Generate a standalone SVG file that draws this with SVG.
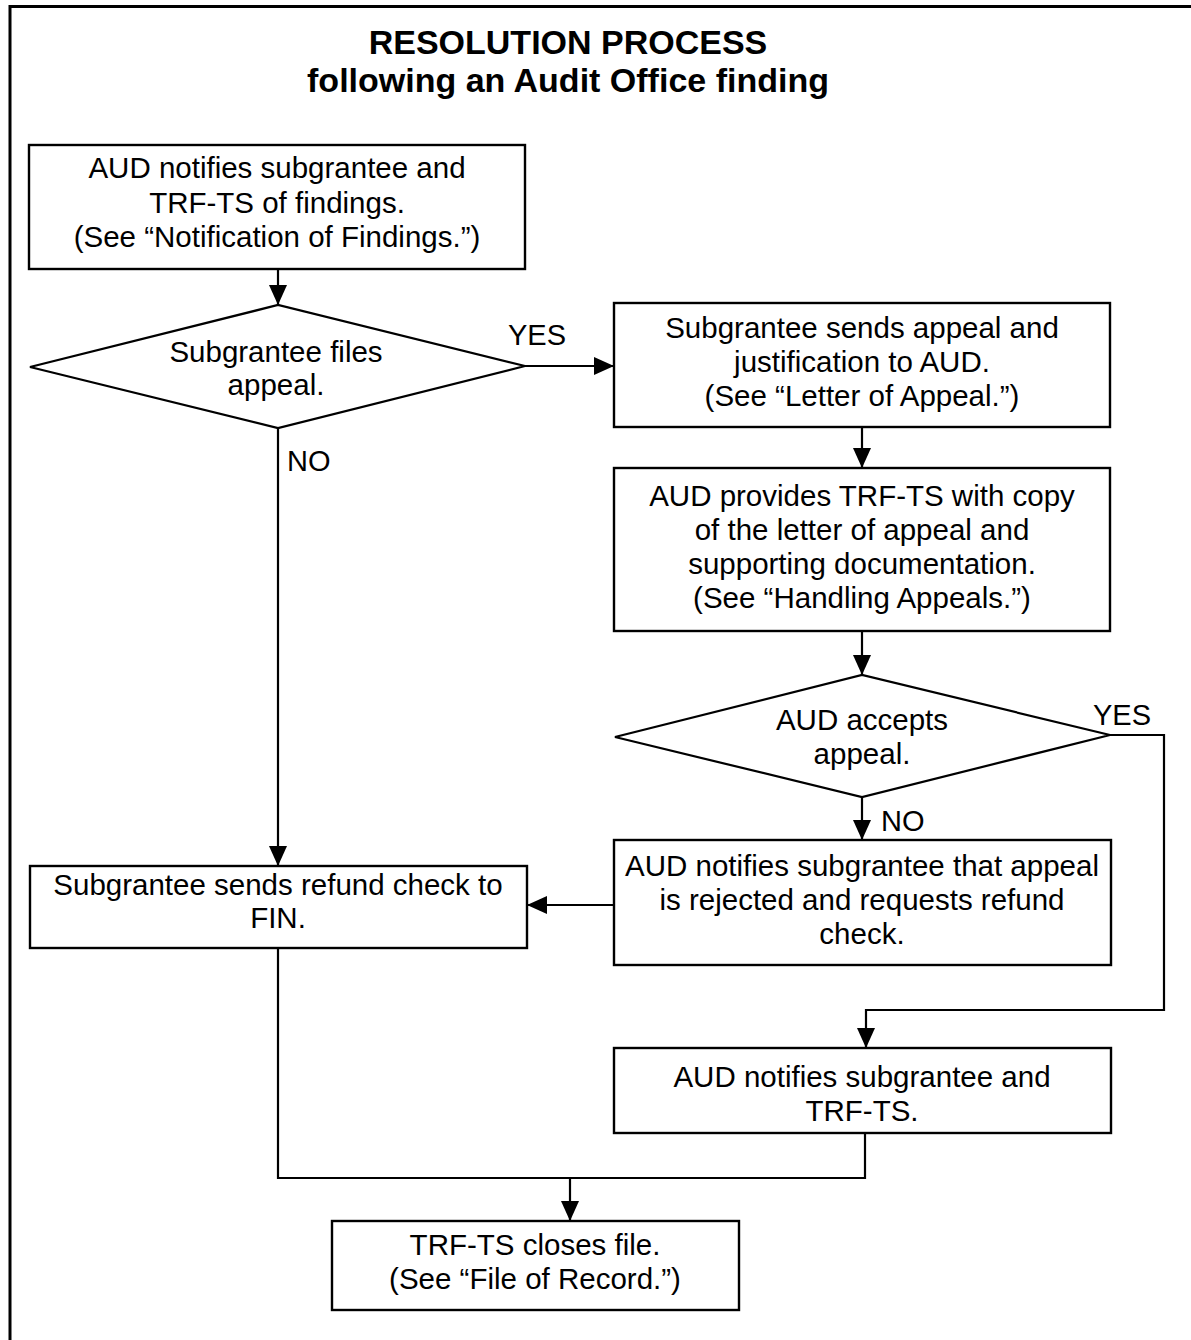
<svg xmlns="http://www.w3.org/2000/svg" width="1191" height="1340" viewBox="0 0 1191 1340">
  <style>
    .box { fill: #ffffff; stroke: #000000; stroke-width: 2.4; }
    .dec { fill: #ffffff; stroke: #000000; stroke-width: 2.2; }
    .wire { fill: none; stroke: #000000; stroke-width: 2.2; }
    .txt { font-family: "Liberation Sans", Arial, sans-serif; font-size: 29.5px; fill: #000000; text-anchor: middle; }
    .lbl { font-family: "Liberation Sans", Arial, sans-serif; font-size: 29px; fill: #000000; }
    .title { font-family: "Liberation Sans", Arial, sans-serif; font-size: 34px; font-weight: bold; fill: #000000; text-anchor: middle; }
  </style>
  <defs>
    <marker id="arrow" viewBox="0 0 20 18" refX="20" refY="9" markerWidth="20" markerHeight="18" markerUnits="userSpaceOnUse" orient="auto">
      <path d="M0,0 L20,9 L0,18 Z" fill="#000000"/>
    </marker>
  </defs>

  <rect width="1191" height="1340" fill="#ffffff"/>
  <!-- page frame -->
  <path d="M10,1340 V6.5 H1191" fill="none" stroke="#000000" stroke-width="3"/>

  <g id="title">
    <text class="title" x="568" y="54">RESOLUTION PROCESS</text>
    <text class="title" x="568" y="92">following an Audit Office finding</text>
  </g>

  <!-- connectors -->
  <g id="connectors">
    <path class="wire" d="M278,269 V305" marker-end="url(#arrow)"/>
    <path class="wire" d="M525,366 H614" marker-end="url(#arrow)"/>
    <path class="wire" d="M278,428 V866" marker-end="url(#arrow)"/>
    <path class="wire" d="M862,427 V468" marker-end="url(#arrow)"/>
    <path class="wire" d="M862,631 V675" marker-end="url(#arrow)"/>
    <path class="wire" d="M862,797 V840" marker-end="url(#arrow)"/>
    <path class="wire" d="M1110,735 H1164 V1010 H866 V1048" marker-end="url(#arrow)"/>
    <path class="wire" d="M614,905 H527" marker-end="url(#arrow)"/>
    <path class="wire" d="M278,948 V1178 H865 V1133"/>
    <path class="wire" d="M570,1178 V1221" marker-end="url(#arrow)"/>
    <text class="lbl" x="508" y="345">YES</text>
    <text class="lbl" x="287" y="471">NO</text>
    <text class="lbl" x="1093" y="725">YES</text>
    <text class="lbl" x="881" y="831">NO</text>
  </g>

  <g id="notify-findings">
    <rect class="box" x="29" y="145" width="496" height="124"/>
    <text class="txt" x="277" y="178">AUD notifies subgrantee and</text>
    <text class="txt" x="277" y="213">TRF-TS of findings.</text>
    <text class="txt" x="277" y="247">(See “Notification of Findings.”)</text>
  </g>

  <g id="files-appeal">
    <polygon class="dec" points="30,367 278,305 525,366 278,428"/>
    <text class="txt" x="276" y="362">Subgrantee files</text>
    <text class="txt" x="276" y="395">appeal.</text>
  </g>

  <g id="sends-appeal">
    <rect class="box" x="614" y="303" width="496" height="124"/>
    <text class="txt" x="862" y="338">Subgrantee sends appeal and</text>
    <text class="txt" x="862" y="372">justification to AUD.</text>
    <text class="txt" x="862" y="406">(See “Letter of Appeal.”)</text>
  </g>

  <g id="provides-copy">
    <rect class="box" x="614" y="468" width="496" height="163"/>
    <text class="txt" x="862" y="506">AUD provides TRF-TS with copy</text>
    <text class="txt" x="862" y="540">of the letter of appeal and</text>
    <text class="txt" x="862" y="574">supporting documentation.</text>
    <text class="txt" x="862" y="608">(See “Handling Appeals.”)</text>
  </g>

  <g id="accepts-appeal">
    <polygon class="dec" points="615,737 862,675 1110,735 862,797"/>
    <text class="txt" x="862" y="730">AUD accepts</text>
    <text class="txt" x="862" y="764">appeal.</text>
  </g>

  <g id="appeal-rejected">
    <rect class="box" x="614" y="840" width="497" height="125"/>
    <text class="txt" x="862" y="876">AUD notifies subgrantee that appeal</text>
    <text class="txt" x="862" y="910">is rejected and requests refund</text>
    <text class="txt" x="862" y="944">check.</text>
  </g>

  <g id="refund-check">
    <rect class="box" x="30" y="866" width="497" height="82"/>
    <text class="txt" x="278" y="895">Subgrantee sends refund check to</text>
    <text class="txt" x="278" y="928">FIN.</text>
  </g>

  <g id="appeal-accepted">
    <rect class="box" x="614" y="1048" width="497" height="85"/>
    <text class="txt" x="862" y="1087">AUD notifies subgrantee and</text>
    <text class="txt" x="862" y="1121">TRF-TS.</text>
  </g>

  <g id="closes-file">
    <rect class="box" x="332" y="1221" width="407" height="89"/>
    <text class="txt" x="535" y="1255">TRF-TS closes file.</text>
    <text class="txt" x="535" y="1289">(See “File of Record.”)</text>
  </g>
</svg>
